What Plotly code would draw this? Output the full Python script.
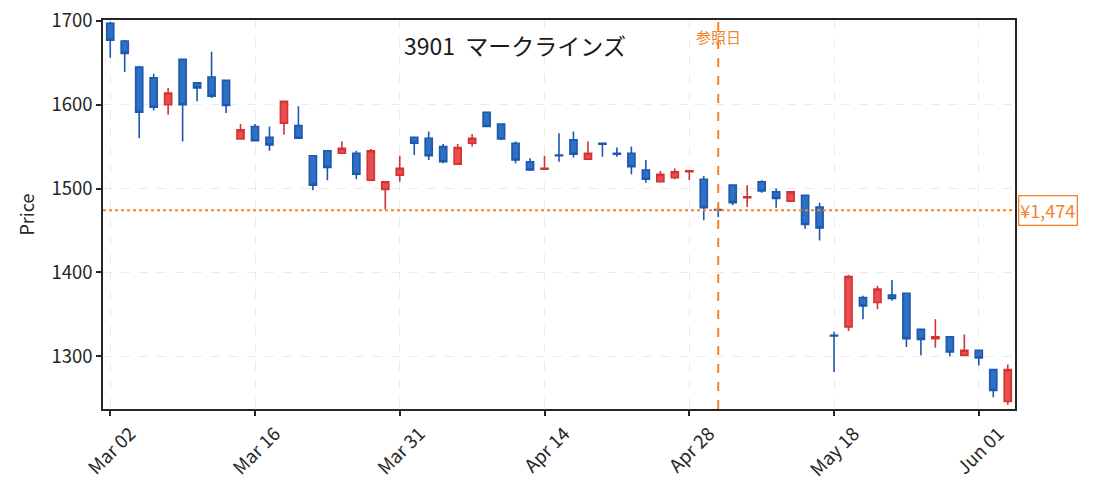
import pandas as pd
import plotly.graph_objects as go

# 3901 マークラインズ, daily OHLC (2020-03-02 .. 2020-06-03)
dates = [
    "2020-03-02", "2020-03-03", "2020-03-04", "2020-03-05", "2020-03-06",
    "2020-03-09", "2020-03-10", "2020-03-11", "2020-03-12", "2020-03-13",
    "2020-03-16", "2020-03-17", "2020-03-18", "2020-03-19",
    "2020-03-23", "2020-03-24", "2020-03-25", "2020-03-26", "2020-03-27",
    "2020-03-30", "2020-03-31", "2020-04-01", "2020-04-02", "2020-04-03",
    "2020-04-06", "2020-04-07", "2020-04-08", "2020-04-09", "2020-04-10",
    "2020-04-13", "2020-04-14", "2020-04-15", "2020-04-16", "2020-04-17",
    "2020-04-20", "2020-04-21", "2020-04-22", "2020-04-23", "2020-04-24",
    "2020-04-27", "2020-04-28", "2020-04-30", "2020-05-01",
    "2020-05-07", "2020-05-08", "2020-05-11", "2020-05-12", "2020-05-13",
    "2020-05-14", "2020-05-15", "2020-05-18", "2020-05-19", "2020-05-20",
    "2020-05-21", "2020-05-22", "2020-05-25", "2020-05-26", "2020-05-27",
    "2020-05-28", "2020-05-29", "2020-06-01", "2020-06-02", "2020-06-03",
]
opens = [
    1697, 1676, 1645, 1632, 1600, 1654, 1626, 1633, 1629, 1559,
    1574, 1561, 1578, 1575, 1539, 1545, 1542, 1542, 1510, 1499,
    1516, 1561, 1560, 1550, 1529, 1554, 1591, 1577, 1554, 1532,
    1523, 1540, 1558, 1535, 1554, 1542, 1542, 1522, 1508, 1513,
    1520, 1511, 1475, 1504, 1489, 1508, 1496, 1485, 1492, 1478,
    1325, 1335, 1370, 1364, 1373, 1375, 1332, 1321, 1323, 1301,
    1307, 1284, 1246,
]
highs = [
    1699, 1677, 1646, 1637, 1620, 1655, 1627, 1663, 1630, 1577,
    1577, 1574, 1604, 1598, 1539, 1545, 1556, 1545, 1547, 1508,
    1539, 1561, 1568, 1553, 1553, 1565, 1591, 1577, 1556, 1536,
    1539, 1566, 1568, 1556, 1554, 1549, 1550, 1534, 1521, 1524,
    1522, 1515, 1478, 1504, 1504, 1510, 1500, 1497, 1492, 1483,
    1329, 1397, 1372, 1384, 1391, 1375, 1332, 1344, 1323, 1326,
    1307, 1284, 1290,
]
lows = [
    1656, 1639, 1560, 1593, 1588, 1556, 1604, 1608, 1590, 1559,
    1556, 1545, 1564, 1560, 1498, 1510, 1542, 1511, 1510, 1475,
    1508, 1540, 1534, 1530, 1529, 1550, 1574, 1558, 1530, 1521,
    1523, 1532, 1537, 1535, 1538, 1538, 1517, 1507, 1508, 1511,
    1510, 1462, 1466, 1480, 1478, 1495, 1477, 1485, 1452, 1438,
    1281, 1330, 1344, 1356, 1366, 1311, 1301, 1310, 1300, 1301,
    1289, 1251, 1242,
]
closes = [
    1677, 1661, 1591, 1597, 1614, 1600, 1620, 1610, 1599, 1570,
    1557, 1552, 1604, 1560, 1504, 1525, 1548, 1517, 1545, 1508,
    1524, 1554, 1539, 1532, 1549, 1560, 1574, 1559, 1534, 1522,
    1524, 1539, 1541, 1542, 1553, 1541, 1526, 1511, 1517, 1520,
    1521, 1477, 1474, 1483, 1490, 1497, 1488, 1496, 1457, 1453,
    1324, 1395, 1360, 1380, 1369, 1321, 1320, 1323, 1305, 1307,
    1298, 1259, 1284,
]

ref_date = "2020-05-01"
title_text = "3901  マークラインズ"

df = pd.DataFrame({"Date": pd.to_datetime(dates), "Open": opens, "High": highs,
                   "Low": lows, "Close": closes})
df["i"] = range(len(df))
ref_i = int(df.index[df["Date"] == pd.Timestamp(ref_date)][0])
ref_close = df.loc[ref_i, "Close"]

tick_pos = list(range(0, len(df), 10))
tick_txt = [df.loc[p, "Date"].strftime("%b %d") for p in tick_pos]

FONT = "Noto Sans CJK JP"
ORANGE = "#f5822a"

fig = go.Figure()
fig.add_trace(go.Candlestick(
    x=df["i"], open=df["Open"], high=df["High"], low=df["Low"], close=df["Close"],
    increasing=dict(fillcolor="#e84c4c", line=dict(color="#d23434", width=1.6)),
    decreasing=dict(fillcolor="#2e70c6", line=dict(color="#1c58ac", width=1.6)),
    whiskerwidth=0, showlegend=False, hoverinfo="x+y",
))

fig.add_vline(x=ref_i, line=dict(color=ORANGE, width=2, dash="dash"))
fig.add_hline(y=ref_close, line=dict(color=ORANGE, width=2, dash="dot"))

fig.add_annotation(x=ref_i, y=0.99, xref="x", yref="paper", text="参照日",
                   showarrow=False, yanchor="top", xanchor="center",
                   font=dict(family=FONT, size=15, color=ORANGE))
fig.add_annotation(x=1.0, y=ref_close, xref="paper", yref="y",
                   text=f"¥{ref_close:,}", showarrow=False, xanchor="left",
                   xshift=3, bgcolor="white", bordercolor=ORANGE, borderwidth=1.3,
                   borderpad=1, font=dict(family=FONT, size=18, color=ORANGE))
fig.add_annotation(x=0.452, y=0.936, xref="paper", yref="paper", text=title_text,
                   showarrow=False, xanchor="center", yanchor="middle",
                   font=dict(family=FONT, size=23, color="#1a1a1a"))

axis_common = dict(
    showline=True, mirror=True, linecolor="#262626", linewidth=1.5,
    ticks="outside", ticklen=5, tickwidth=1.5, tickcolor="#262626",
    showgrid=True, gridcolor="#ebebeb", griddash="dash", gridwidth=1,
    zeroline=False, tickfont=dict(family=FONT, size=18.5, color="#262626"),
    ticklabeloverflow="allow", automargin=False,
)
fig.update_xaxes(
    **axis_common, range=[-0.5, len(df) - 0.5], tickmode="array",
    tickvals=tick_pos, ticktext=tick_txt, tickangle=-45, ticklabelshift=20,
    rangeslider=dict(visible=False),
)
fig.update_yaxes(
    **axis_common, range=[1237, 1701], tickvals=[1300, 1400, 1500, 1600, 1700],
    title=dict(text="Price", font=dict(family=FONT, size=18, color="#262626"),
               standoff=12),
)
fig.update_layout(
    width=1093, height=497,
    margin=dict(l=95, r=86, t=12, b=96, autoexpand=False),
    paper_bgcolor="white", plot_bgcolor="white",
    font=dict(family=FONT),
)

fig.write_html("out.html")
